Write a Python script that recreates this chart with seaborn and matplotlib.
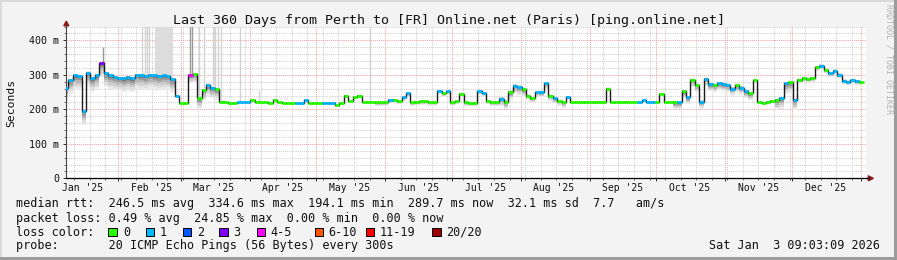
import numpy as np
import pandas as pd
import matplotlib
matplotlib.use("Agg")
import matplotlib.pyplot as plt
import matplotlib.dates as mdates
import matplotlib.transforms as mtrans
from matplotlib.patches import Rectangle, Polygon
from matplotlib.lines import Line2D
from matplotlib.ticker import MultipleLocator, FuncFormatter, NullFormatter
import seaborn as sns
from datetime import datetime

# ---------------- data ----------------
title = "Last 360 Days from Perth to [FR] Online.net (Paris) [ping.online.net]"
start = datetime(2025, 1, 8, 9, 3, 9)
end = datetime(2026, 1, 3, 9, 3, 9)
step_days = 2

# median RTT in ms, one value every 2 days
median_ms = [
    262, 285, 298, 297, 195, 306, 290, 298, 333, 305,
    298, 295, 292, 290, 293, 290, 300, 298, 296, 300,
    298, 296, 298, 297, 288, 240, 217, 217, 300, 302,
    232, 256, 270, 262, 258, 222, 220, 219, 219, 220,
    220, 220, 227, 220, 220, 220, 219, 228, 220, 219,
    218, 218, 217, 217, 227, 217, 217, 217, 218, 218,
    218, 212, 218, 240, 225, 236, 240, 220, 222, 220,
    220, 220, 220, 227, 228, 224, 235, 246, 220, 222,
    223, 223, 221, 221, 254, 246, 252, 220, 224, 245,
    220, 219, 219, 252, 248, 225, 220, 220, 231, 222,
    250, 268, 264, 258, 240, 232, 250, 250, 275, 240,
    232, 225, 220, 236, 220, 220, 220, 220, 220, 220,
    220, 220, 260, 220, 220, 220, 220, 220, 220, 220,
    226, 220, 220, 220, 245, 220, 220, 220, 220, 252,
    235, 285, 270, 222, 288, 272, 270, 275, 272, 270,
    260, 270, 263, 252, 246, 285, 222, 218, 222, 225,
    228, 232, 275, 278, 228, 285, 290, 288, 290, 322,
    326, 315, 304, 312, 300, 283, 280, 284, 281, 280,
]

# loss colour category per point (index into loss_labels)
loss_cat = [
    1, 1, 1, 1, 1, 1, 1, 1, 3, 1,
    1, 1, 1, 1, 1, 1, 1, 1, 1, 1,
    1, 1, 1, 1, 1, 1, 0, 0, 4, 0,
    0, 0, 1, 1, 0, 0, 0, 0, 0, 1,
    1, 1, 0, 0, 0, 0, 0, 0, 0, 0,
    0, 0, 1, 1, 1, 0, 0, 0, 1, 1,
    1, 0, 0, 0, 0, 0, 0, 0, 0, 0,
    0, 0, 0, 1, 0, 0, 1, 1, 0, 0,
    0, 0, 0, 0, 1, 0, 1, 0, 0, 0,
    0, 0, 0, 1, 1, 0, 0, 0, 1, 0,
    0, 1, 1, 0, 0, 0, 1, 1, 1, 0,
    1, 0, 0, 1, 0, 0, 0, 0, 0, 0,
    0, 0, 0, 0, 0, 0, 0, 0, 0, 1,
    1, 1, 1, 0, 0, 0, 0, 0, 1, 0,
    1, 0, 0, 1, 1, 1, 0, 1, 1, 1,
    1, 0, 1, 1, 0, 0, 0, 0, 0, 0,
    0, 1, 1, 0, 1, 0, 0, 0, 0, 0,
    1, 0, 1, 1, 1, 1, 1, 1, 1, 0,
]
loss_labels = ["0", "1", "2", "3", "4-5", "6-10", "11-19", "20/20"]
loss_colors = ["#26ff00", "#00b8ff", "#0059ff", "#7e00ff",
               "#ff00ff", "#ff5500", "#ff0000", "#a10000"]

# smoke spread: (from_day, to_day, ms below median, ms above median)
smoke_segments = [
    (0, 50, 40, 6), (50, 56, 4, 3), (56, 60, 25, 6), (60, 70, 30, 8),
    (70, 140, 3, 4), (140, 196, 10, 5), (196, 208, 22, 10), (208, 214, 12, 5),
    (214, 226, 15, 5), (226, 274, 3, 6), (274, 310, 20, 8), (310, 320, 4, 4),
    (320, 330, 30, 6), (330, 360, 10, 8),
]
# tall max-ping smoke
band_from = [40.4]
band_to = [48.6]
band_top = [445]
spike_days = [34.3, 35.5, 36.6, 37.3, 59.9, 62.1, 66.3, 67.0, 68.6, 69.6, 78.4, 87.0, 136.8]
spike_tops = [445, 445, 445, 445, 445, 445, 445, 445, 445, 445, 445, 256, 445]
dense_spike_days = [16.7, 55.6, 56.6]
dense_spike_tops = [380, 445, 445]

rtt_stats = ["246.5", "334.6", "194.1", "289.7", "32.1", "7.7"]
loss_stats = ["0.49", "24.85", "0.00", "0.00"]
probe_text = "20 ICMP Echo Pings (56 Bytes) every 300s"
stamp_text = "Sat Jan  3 09:03:09 2026"

# ---------------- figure ----------------
sns.set_style("white")
plt.rcParams["font.family"] = ["DejaVu Sans Mono"]

W, H = 897, 260
fig = plt.figure(figsize=(W / 100, H / 100), dpi=100, facecolor="#f3f3f3")
AL, AR, AT, AB = 66, 866, 26.5, 178.3
ax = fig.add_axes([AL / W, 1 - AB / H, (AR - AL) / W, (AB - AT) / H])
ax.set_facecolor("white")

x0 = mdates.date2num(start)
x1 = mdates.date2num(end)
med = np.array(median_ms, dtype=float)
days = np.arange(len(med)) * step_days
xs = x0 + days
df = pd.DataFrame({"t": xs, "median": med})

below = np.zeros(len(med))
above = np.zeros(len(med))
for a, b, lo, hi in smoke_segments:
    m = (days >= a) & (days < b)
    below[m] = lo
    above[m] = hi

# tall light smoke
for a, b, top in zip(band_from, band_to, band_top):
    m = (days >= a - 0.5) & (days <= b + 0.5)
    ax.fill_between(xs, med, top, where=m, step="mid", color="#dcdcdc", lw=0, zorder=1)
for d, top in zip(spike_days, spike_tops):
    i = int(round(d / step_days))
    ax.vlines(x0 + d, med[i], top, color="#d2d2d2", lw=1.0, zorder=1)
for d, top in zip(dense_spike_days, dense_spike_tops):
    i = int(round(d / step_days))
    ax.vlines(x0 + d, med[i], top, color="#9a9a9a", lw=1.0, zorder=1)

# smoke gradient (mostly below the median, darker close to it)
shades = ["#ececec", "#dedede", "#cccccc", "#b5b5b5", "#9a9a9a", "#7a7a7a"]
ns = len(shades)
for k, c in enumerate(shades):
    f = 1 - k / ns
    ax.fill_between(xs, med - below * f, med + above * f * 0.6, step="mid",
                    color=c, lw=0, zorder=2)

# median line
sns.lineplot(data=df, x="t", y="median", drawstyle="steps-mid", color="#1a1a1a",
             linewidth=1.0, ax=ax, legend=False, errorbar=None, zorder=3)
seg_colors = [loss_colors[c] for c in loss_cat]
ax.hlines(med, xs - step_days / 2, xs + step_days / 2,
          colors=seg_colors, lw=2.0, zorder=4)

ax.set_xlim(x0, x1)
ax.set_ylim(0, 440)
ax.set_xlabel("")
ax.set_ylabel("")

# grids
ax.xaxis.set_major_locator(mdates.MonthLocator())
ax.xaxis.set_minor_locator(mdates.WeekdayLocator(byweekday=mdates.SU))
ax.xaxis.set_major_formatter(NullFormatter())
ax.xaxis.set_minor_formatter(NullFormatter())
ax.yaxis.set_major_locator(MultipleLocator(100))
ax.yaxis.set_minor_locator(MultipleLocator(20))
ax.yaxis.set_major_formatter(FuncFormatter(lambda v, p: "0" if v == 0 else f"{int(v)} m"))
ax.grid(which="minor", color="#cfcfcf", linestyle=(0, (1, 1)), lw=0.75)
ax.grid(which="major", color="#f2a0a0", linestyle=(0, (1, 1)), lw=0.75)
ax.set_axisbelow(True)
ax.tick_params(axis="y", which="major", length=2.5, width=0.7, color="#333333",
               pad=2.5, labelsize=7.2, labelcolor="#111111", left=True)
ax.tick_params(axis="y", which="minor", length=1.5, width=0.6, color="#555555", left=True)
ax.tick_params(axis="x", which="major", length=2.5, width=0.7, color="#333333", bottom=True)
ax.tick_params(axis="x", which="minor", length=1.5, width=0.6, color="#555555", bottom=True)

for s in ["top", "right"]:
    ax.spines[s].set_visible(False)
ax.spines["left"].set_color("#444444")
ax.spines["left"].set_linewidth(0.8)
ax.spines["bottom"].set_color("#000000")
ax.spines["bottom"].set_linewidth(0.9)

tf = fig.transFigure


def fx(px):
    return px / W


def fy(py):
    return 1 - py / H


# axis extensions and arrows
fig.add_artist(Line2D([fx(66.3), fx(66.3)], [fy(AT), fy(25)], color="#444444", lw=0.8, transform=tf))
fig.add_artist(Line2D([fx(AR), fx(868.5)], [fy(178.3), fy(178.3)], color="#000000", lw=0.9, transform=tf))
fig.add_artist(Polygon([(fx(63.8), fy(25.8)), (fx(68.8), fy(25.8)), (fx(66.3), fy(21.2))],
                       closed=True, color="#8b1a1a", transform=tf))
fig.add_artist(Polygon([(fx(868.3), fy(175.8)), (fx(868.3), fy(180.8)), (fx(873.3), fy(178.3))],
                       closed=True, color="#8b1a1a", transform=tf))

# month labels (centred mid-month)
bt = mtrans.blended_transform_factory(ax.transData, tf)
for mo in range(1, 13):
    c = mdates.date2num(datetime(2025, mo, 16))
    if x0 < c < x1:
        lab = datetime(2025, mo, 1).strftime("%b '%y")
        ax.text(c, fy(190.7), lab, transform=bt, ha="center", va="baseline",
                fontsize=7.0, color="#111111", clip_on=False)

# titles
fig.text(0.5, fy(24), title, ha="center", va="baseline", fontsize=9.6, color="#111111")
fig.text(fx(11), fy(102.5), "Seconds", rotation=90, ha="center", va="center",
         fontsize=8.2, color="#111111")
fig.text(fx(889), fy(59), "RRDTOOL / TOBI OETIKER", rotation=270, ha="center", va="center",
         fontsize=6.0, color="#b4b4b4")

# legend lines
fs = 8.45
line1 = ("median rtt:  {} ms avg  {} ms max  {} ms min  {} ms now  {} ms sd  {}   am/s"
         .format(*rtt_stats))
line2 = "packet loss: {} % avg  {} % max  {} % min  {} % now".format(*loss_stats)
fig.text(fx(16), fy(207.3), line1, ha="left", va="baseline", fontsize=fs, color="#111111")
fig.text(fx(16), fy(221.7), line2, ha="left", va="baseline", fontsize=fs, color="#111111")
fig.text(fx(16), fy(235.7), "loss color:", ha="left", va="baseline", fontsize=fs, color="#111111")
fig.text(fx(16), fy(249.3), "probe:       " + probe_text, ha="left", va="baseline",
         fontsize=fs, color="#111111")
fig.text(fx(880), fy(249.3), stamp_text, ha="right", va="baseline", fontsize=fs, color="#111111")

box_x = [108.3, 145.7, 182.7, 219.3, 256.7, 315.0, 365.7, 432.3]
lab_x = [123.3, 160.0, 196.7, 233.3, 270.7, 328.3, 380.0, 446.0]
for bx, lx, lab, col in zip(box_x, lab_x, loss_labels, loss_colors):
    fig.add_artist(Rectangle((fx(bx), fy(236.3)), 8.3 / W, 8.0 / H, facecolor=col,
                             edgecolor="#000000", lw=0.7, transform=tf))
    fig.text(fx(lx), fy(235.7), lab, ha="left", va="baseline", fontsize=fs, color="#111111")

# frame
fig.add_artist(Rectangle((0, fy(2)), 1, 2 / H, color="#dadada", transform=tf, lw=0))
fig.add_artist(Rectangle((0, 0), 2 / W, 1, color="#dadada", transform=tf, lw=0))
fig.add_artist(Rectangle((0, 0), 1, 3 / H, color="#9c9c9c", transform=tf, lw=0))
fig.add_artist(Rectangle((fx(W - 3), 0), 3 / W, 1, color="#9c9c9c", transform=tf, lw=0))

fig.savefig("out.png", dpi=100, facecolor=fig.get_facecolor())
